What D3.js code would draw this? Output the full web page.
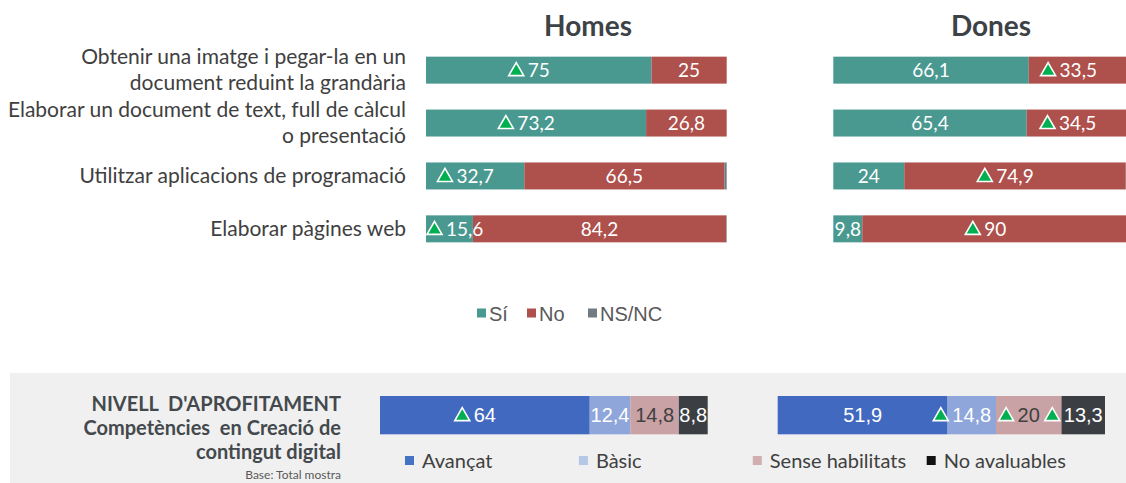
<!DOCTYPE html>
<html>
<head>
<meta charset="utf-8">
<script src="https://cdn.jsdelivr.net/npm/d3@7"></script>
<style>
  body { margin: 0; background: #fff; }
  svg { display: block; }
  text { white-space: pre; }
</style>
</head>
<body>
<div id="chart"></div>
<script>
// Competències en creació de contingut digital - Homes / Dones

const categories = [
  ["Obtenir una imatge i pegar-la en un", "document reduint la grandària"],
  ["Elaborar un document de text, full de càlcul", "o presentació"],
  ["Utilitzar aplicacions de programació"],
  ["Elaborar pàgines web"]
];
const answers = ["Sí", "No", "NS/NC"];

const homesSi = [75, 73.2, 32.7, 15.6];
const homesNo = [25, 26.8, 66.5, 84.2];
const homesNs = [0, 0, 0.8, 0.2];
const homesUp = [["Sí"], ["Sí"], ["Sí"], ["Sí"]];

const donesSi = [66.1, 65.4, 24, 9.8];
const donesNo = [33.5, 34.5, 74.9, 90];
const donesNs = [0.4, 0.1, 1.1, 0.2];
const donesUp = [["No"], ["No"], ["No"], ["No"]];

const levels = ["Avançat", "Bàsic", "Sense habilitats", "No avaluables"];
const homesLevel = [64, 12.4, 14.8, 8.8];
const homesLevelUp = [true, false, false, false];
const donesLevel = [51.9, 14.8, 20, 13.3];
const donesLevelUp = [false, true, true, true];

const W = 1126, H = 483;
const ansColor = { "Sí": "#4a9990", "No": "#ae504c", "NS/NC": "#737b82" };
const levelColor = ["#4169c0", "#8ea6d9", "#c9a2a5", "#3b3f43"];
const levelLegendColor = ["#4472c4", "#b4c7e7", "#d2aeb0", "#111111"];
const levelTextColor = ["#fff", "#fff", "#404040", "#fff"];
const textColor = "#404040";
const fmt = v => String(v).replace(".", ",");

const svg = d3.select("#chart").append("svg").attr("width", W).attr("height", H);

// background of the bottom block goes first
svg.append("rect").attr("x", 10).attr("y", 373).attr("width", W - 10).attr("height", H - 373).attr("fill", "#f0f0f0");

const barLayer = svg.append("g");
const labelLayer = svg.append("g");

// --- SCALES ---
const y = d3.scaleBand().domain(d3.range(categories.length))
  .range([43.7, 255.3]).paddingInner(0.49).paddingOuter(0.245);
const xHomes = d3.scaleLinear().domain([0, 100]).range([426, 726.7]);
const xDones = d3.scaleLinear().domain([0, 100]).range([833.3, 1129]);

function upTriangle(sel) {
  return sel.append("path")
    .attr("d", "M0,-7L7.5,6L-7.5,6Z")
    .attr("fill", "#00b050").attr("stroke", "#fff").attr("stroke-width", 1.6);
}

// value text centered in its segment, triangle to its left (kept inside the bar start)
function segLabel(x0, x1, barStart, cy, value, up, opts) {
  const t = labelLayer.append("text")
    .attr("x", (x0 + x1) / 2).attr("y", cy + opts.size * 0.36)
    .attr("text-anchor", "middle")
    .attr("font-family", opts.font).attr("font-size", opts.size)
    .attr("fill", opts.color).text(fmt(value));
  if (!up) return;
  const tw = t.node().getComputedTextLength();
  let textLeft = (x0 + x1) / 2 - tw / 2;
  let triCx = textLeft - 4 - 7.5;
  if (triCx - 7.5 < barStart + 1) {
    const shift = barStart + 1 - (triCx - 7.5);
    triCx += shift; textLeft += shift;
    t.attr("text-anchor", "start").attr("x", textLeft);
  }
  upTriangle(labelLayer).attr("transform", `translate(${triCx},${cy - 0.5})`);
}

function drawPanel(title, titleX, x, si, no, ns, ups) {
  labelLayer.append("text").attr("x", titleX).attr("y", 36)
    .attr("text-anchor", "middle").attr("font-family", "Lato").attr("font-weight", "bold")
    .attr("font-size", 28).attr("fill", "#3d4247").text(title);

  categories.forEach((c, i) => {
    const vals = [si[i], no[i], ns[i]];
    let acc = 0;
    answers.forEach((a, k) => {
      const v = vals[k];
      const x0 = x(acc), x1 = x(acc + v);
      acc += v;
      if (v <= 0) return;
      barLayer.append("rect").attr("x", x0).attr("y", y(i))
        .attr("width", x1 - x0).attr("height", y.bandwidth()).attr("fill", ansColor[a]);
      if (a !== "NS/NC") {
        segLabel(x0, x1, x(0), y(i) + y.bandwidth() / 2, v, ups[i].includes(a),
          { font: "Lato", size: 19, color: "#fff" });
      }
    });
  });
}

drawPanel("Homes", 588, xHomes, homesSi, homesNo, homesNs, homesUp);
drawPanel("Dones", 991, xDones, donesSi, donesNo, donesNs, donesUp);

// --- CATEGORY LABELS ---
svg.append("g").selectAll("text").data(categories).join("text")
  .attr("font-family", "Lato").attr("font-size", 21).attr("fill", textColor)
  .attr("text-anchor", "end")
  .each(function(lines, i) {
    const cy = y(i) + y.bandwidth() / 2;
    const lh = 25.5;
    const top = cy - (lines.length - 1) * lh / 2;
    d3.select(this).selectAll("tspan").data(lines).join("tspan")
      .attr("x", 406).attr("y", (d, j) => top + j * lh + 7).text(d => d);
  });

// --- LEGEND Sí / No / NS/NC ---
const xLegAns = d3.scaleOrdinal().domain(answers).range([477, 527, 588]);
const leg = svg.append("g").selectAll("g").data(answers).join("g")
  .attr("transform", d => `translate(${xLegAns(d)},0)`);
leg.append("rect").attr("y", 308.5).attr("width", 9).attr("height", 9).attr("fill", d => ansColor[d]);
leg.append("text").attr("x", 12).attr("y", 320.5)
  .attr("font-family", "Liberation Sans").attr("font-size", 20).attr("fill", "#595959").text(d => d);

// --- NIVELL D'APROFITAMENT ---
const nivLines = ["NIVELL  D'APROFITAMENT", "Competències  en Creació de", "contingut digital"];
svg.append("g").selectAll("text").data(nivLines).join("text")
  .attr("x", 341).attr("y", (d, i) => 411 + i * 24)
  .attr("text-anchor", "end").attr("font-family", "Lato").attr("font-weight", "bold")
  .attr("font-size", 20).attr("fill", "#44494d").text(d => d);
svg.append("text").attr("x", 341).attr("y", 478.5).attr("text-anchor", "end")
  .attr("font-family", "Lato").attr("font-size", 12).attr("fill", "#595959").text("Base: Total mostra");

const yLev = d3.scaleBand().domain(["nivell"]).range([396, 434.3]);
const xLevH = d3.scaleLinear().domain([0, 100]).range([380, 707.7]);
const xLevD = d3.scaleLinear().domain([0, 100]).range([777.7, 1105]);

function drawLevel(x, vals, ups) {
  let acc = 0;
  vals.forEach((v, k) => {
    const x0 = x(acc), x1 = x(acc + v);
    acc += v;
    barLayer.append("rect").attr("x", x0).attr("y", yLev("nivell"))
      .attr("width", x1 - x0).attr("height", yLev.bandwidth()).attr("fill", levelColor[k]);
    segLabel(x0, x1, x(0), yLev("nivell") + yLev.bandwidth() / 2, v, ups[k],
      { font: "Liberation Sans", size: 20, color: levelTextColor[k] });
  });
}
drawLevel(xLevH, homesLevel, homesLevelUp);
drawLevel(xLevD, donesLevel, donesLevelUp);

const xLegLev = d3.scaleLinear().domain([0, 3]).range([405, 926.7]);
const lg = svg.append("g").selectAll("g").data(levels).join("g")
  .attr("transform", (d, i) => `translate(${xLegLev(i)},0)`);
lg.append("rect").attr("x", 0).attr("y", 456).attr("width", 9).attr("height", 9)
  .attr("fill", (d, i) => levelLegendColor[i]);
lg.append("text").attr("x", 17).attr("y", 468)
  .attr("font-family", "Lato").attr("font-size", 20).attr("fill", textColor).text(d => d);
</script>
</body>
</html>
